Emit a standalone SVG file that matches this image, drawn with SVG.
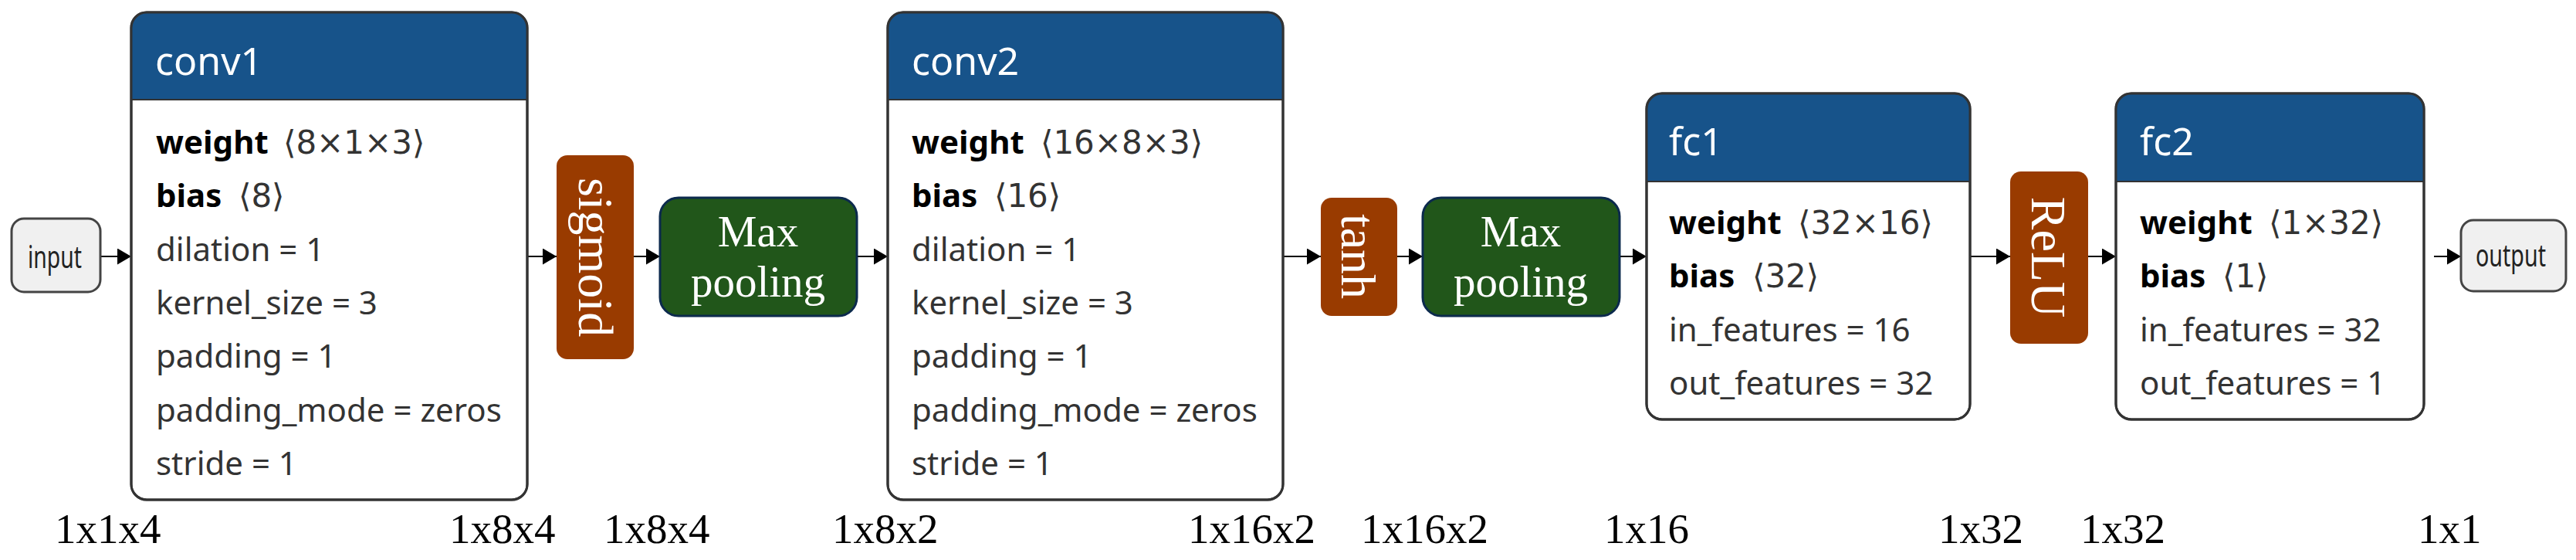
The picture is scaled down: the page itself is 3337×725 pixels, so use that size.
<svg xmlns="http://www.w3.org/2000/svg" width="3337" height="725" viewBox="0 0 3337 725">
<style>
.box{fill:#fff;stroke:#333;stroke-width:3}
.frame{fill:none;stroke:#333;stroke-width:3}
.hdr{fill:#17538a}
.sep{stroke:#333;stroke-width:2}
.ttl{font-family:"Noto Sans","Open Sans","DejaVu Sans",sans-serif;font-size:50px;fill:#fff}
.body{font-family:"Noto Sans","Open Sans","DejaVu Sans",sans-serif;font-size:42px;fill:#333}
.br{font-family:"DejaVu Sans","Noto Sans",sans-serif}
.b{font-weight:bold;fill:#000}
.act{fill:#993b00}
.pool{fill:#21561a;stroke:#0c2a4d;stroke-width:3}
.tw{font-family:"Liberation Serif","Times New Roman",serif;fill:#fff}
.lbl{font-family:"Liberation Serif","Times New Roman",serif;font-size:55px;fill:#000}
.io{fill:#f0f0f0;stroke:#444;stroke-width:3}
.iot{font-family:"Noto Sans","Open Sans","DejaVu Sans",sans-serif;font-size:40px;fill:#222}
.edge{stroke:#000;stroke-width:2;fill:none;marker-end:url(#ah)}
</style>
<defs>
<marker id="ah" markerUnits="userSpaceOnUse" markerWidth="18" markerHeight="21" refX="18" refY="10.5" orient="auto">
<path d="M0,0 L18,10.5 L0,21 Z" fill="#000"/>
</marker>
</defs>

<g id="connectors">
<line class="edge" x1="130" y1="332" x2="170" y2="332"/>
<line class="edge" x1="684" y1="332" x2="721" y2="332"/>
<line class="edge" x1="821" y1="332" x2="855" y2="332"/>
<line class="edge" x1="1110" y1="332" x2="1150" y2="332"/>
<line class="edge" x1="1663" y1="332" x2="1711" y2="332"/>
<line class="edge" x1="1810" y1="332" x2="1843" y2="332"/>
<line class="edge" x1="2099" y1="332" x2="2133" y2="332"/>
<line class="edge" x1="2553" y1="332" x2="2604" y2="332"/>
<line class="edge" x1="2705" y1="332" x2="2741" y2="332"/>
<line class="edge" x1="3153" y1="332" x2="3188" y2="332"/>
</g>

<g id="input">
<rect class="io" x="15" y="283" width="115" height="95" rx="16"/>
<text class="iot" x="36" y="347" textLength="70" lengthAdjust="spacingAndGlyphs">input</text>
</g>

<g id="conv1">
<rect class="box" x="170" y="16" width="513" height="631" rx="20"/>
<path class="hdr" d="M170,129 V36 A20,20 0 0 1 190,16 H663 A20,20 0 0 1 683,36 V129 Z"/>
<line class="sep" x1="170" y1="129" x2="683" y2="129"/>
<rect class="frame" x="170" y="16" width="513" height="631" rx="20"/>
<text class="ttl" x="201" y="97">conv1</text>
<text class="body" x="202" y="199"><tspan class="b">weight</tspan><tspan class="br" x="367">⟨8×1×3⟩</tspan></text>
<text class="body" x="202" y="268.3"><tspan class="b">bias</tspan><tspan class="br" x="309">⟨8⟩</tspan></text>
<text class="body" x="202" y="337.6">dilation = 1</text>
<text class="body" x="202" y="406.9">kernel_size = 3</text>
<text class="body" x="202" y="476.2">padding = 1</text>
<text class="body" x="202" y="545.5">padding_mode = zeros</text>
<text class="body" x="202" y="614.8">stride = 1</text>
</g>

<g id="sigmoid">
<rect class="act" x="721" y="201" width="100" height="264" rx="14"/>
<text class="tw" font-size="64" text-anchor="middle" transform="translate(750,333) rotate(90)">sigmoid</text>
</g>

<g id="maxpool1">
<rect class="pool" x="855" y="256" width="255" height="153" rx="24"/>
<text class="tw" font-size="57" text-anchor="middle" x="982" y="319">Max</text>
<text class="tw" font-size="57" text-anchor="middle" x="982" y="384">pooling</text>
</g>

<g id="conv2">
<rect class="box" x="1150" y="16" width="512" height="631" rx="20"/>
<path class="hdr" d="M1150,129 V36 A20,20 0 0 1 1170,16 H1642 A20,20 0 0 1 1662,36 V129 Z"/>
<line class="sep" x1="1150" y1="129" x2="1662" y2="129"/>
<rect class="frame" x="1150" y="16" width="512" height="631" rx="20"/>
<text class="ttl" x="1181" y="97">conv2</text>
<text class="body" x="1181" y="199"><tspan class="b">weight</tspan><tspan class="br" x="1348">⟨16×8×3⟩</tspan></text>
<text class="body" x="1181" y="268.3"><tspan class="b">bias</tspan><tspan class="br" x="1288">⟨16⟩</tspan></text>
<text class="body" x="1181" y="337.6">dilation = 1</text>
<text class="body" x="1181" y="406.9">kernel_size = 3</text>
<text class="body" x="1181" y="476.2">padding = 1</text>
<text class="body" x="1181" y="545.5">padding_mode = zeros</text>
<text class="body" x="1181" y="614.8">stride = 1</text>
</g>

<g id="tanh">
<rect class="act" x="1711" y="256" width="99" height="153" rx="14"/>
<text class="tw" font-size="64" text-anchor="middle" transform="translate(1738,332) rotate(90)">tanh</text>
</g>

<g id="maxpool2">
<rect class="pool" x="1843" y="256" width="255" height="153" rx="24"/>
<text class="tw" font-size="57" text-anchor="middle" x="1970" y="319">Max</text>
<text class="tw" font-size="57" text-anchor="middle" x="1970" y="384">pooling</text>
</g>

<g id="fc1">
<rect class="box" x="2133" y="121" width="419" height="422" rx="20"/>
<path class="hdr" d="M2133,235 V141 A20,20 0 0 1 2153,121 H2532 A20,20 0 0 1 2552,141 V235 Z"/>
<line class="sep" x1="2133" y1="235" x2="2552" y2="235"/>
<rect class="frame" x="2133" y="121" width="419" height="422" rx="20"/>
<text class="ttl" x="2162" y="201">fc1</text>
<text class="body" x="2162" y="303"><tspan class="b">weight</tspan><tspan class="br" x="2329">⟨32×16⟩</tspan></text>
<text class="body" x="2162" y="372.3"><tspan class="b">bias</tspan><tspan class="br" x="2270">⟨32⟩</tspan></text>
<text class="body" x="2162" y="441.6">in_features = 16</text>
<text class="body" x="2162" y="510.9">out_features = 32</text>
</g>

<g id="relu">
<rect class="act" x="2604" y="222" width="101" height="223" rx="14"/>
<text class="tw" font-size="64" text-anchor="middle" transform="translate(2632,333) rotate(90)">ReLU</text>
</g>

<g id="fc2">
<rect class="box" x="2741" y="121" width="399" height="422" rx="20"/>
<path class="hdr" d="M2741,235 V141 A20,20 0 0 1 2761,121 H3120 A20,20 0 0 1 3140,141 V235 Z"/>
<line class="sep" x1="2741" y1="235" x2="3140" y2="235"/>
<rect class="frame" x="2741" y="121" width="399" height="422" rx="20"/>
<text class="ttl" x="2772" y="201">fc2</text>
<text class="body" x="2772" y="303"><tspan class="b">weight</tspan><tspan class="br" x="2939">⟨1×32⟩</tspan></text>
<text class="body" x="2772" y="372.3"><tspan class="b">bias</tspan><tspan class="br" x="2879">⟨1⟩</tspan></text>
<text class="body" x="2772" y="441.6">in_features = 32</text>
<text class="body" x="2772" y="510.9">out_features = 1</text>
</g>

<g id="output">
<rect class="io" x="3188" y="285" width="136" height="92" rx="16"/>
<text class="iot" x="3207" y="345" textLength="91" lengthAdjust="spacingAndGlyphs">output</text>
</g>

<g id="shape-labels">
<text class="lbl" x="71" y="703">1x1x4</text>
<text class="lbl" x="582" y="703">1x8x4</text>
<text class="lbl" x="782" y="703">1x8x4</text>
<text class="lbl" x="1078" y="703">1x8x2</text>
<text class="lbl" x="1539" y="703">1x16x2</text>
<text class="lbl" x="1763" y="703">1x16x2</text>
<text class="lbl" x="2078" y="703">1x16</text>
<text class="lbl" x="2511" y="703">1x32</text>
<text class="lbl" x="2695" y="703">1x32</text>
<text class="lbl" x="3132" y="703">1x1</text>
</g>
</svg>
